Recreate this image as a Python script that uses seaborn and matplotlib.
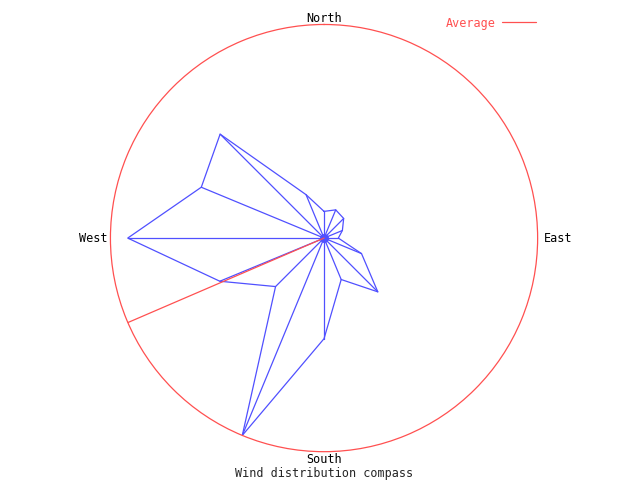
import numpy as np
import pandas as pd
import matplotlib
matplotlib.use('Agg')
import matplotlib.pyplot as plt
import seaborn as sns
from matplotlib.lines import Line2D

# Wind distribution per compass direction (max = 100)
directions = ['N', 'NNE', 'NE', 'ENE', 'E', 'ESE', 'SE', 'SSE',
              'S', 'SSW', 'SW', 'WSW', 'W', 'WNW', 'NW', 'NNW']
bearings = [0, 22.5, 45, 67.5, 90, 112.5, 135, 157.5,
            180, 202.5, 225, 247.5, 270, 292.5, 315, 337.5]
wind_values = [12.5, 14.3, 13.0, 9.3, 6.7, 19.0, 35.6, 21.0,
               47.1, 100.0, 32.1, 52.8, 91.9, 62.2, 68.8, 22.0]
avg_bearing = 246.7
compass_labels = ['North', 'East', 'South', 'West']

blue = '#5050FF'
red = '#FF5050'
font = 'DejaVu Sans Mono'

sns.set_style('white')
plt.rcParams['font.family'] = [font]

data = pd.DataFrame({'dir': directions, 'bearing': bearings, 'value': wind_values})
data['theta'] = np.deg2rad(data['bearing'])
rmax = data['value'].max()

fig = plt.figure(figsize=(6.4, 4.8), dpi=100)
ax = fig.add_axes([0.1723, 0.059, 0.668, 0.890], projection='polar')
ax.set_theta_zero_location('N')
ax.set_theta_direction(-1)

# Closed outline of the distribution
outline = pd.concat([data, data.iloc[[0]]], ignore_index=True)
sns.lineplot(data=outline, x='theta', y='value', sort=False, color=blue,
             linewidth=0.9, estimator=None, ax=ax)

# Spokes from the centre to every point
for t, v in zip(data['theta'], data['value']):
    ax.plot([t, t], [0, v], color=blue, linewidth=0.9)
ax.plot([0], [0], 'o', color=blue, markersize=5.5)

# Average direction
ax.plot([np.deg2rad(avg_bearing)] * 2, [0, rmax], color=red, linewidth=0.9)

ax.set_ylim(0, rmax)
ax.grid(False)
ax.set_xticks([])
ax.set_yticks([])
ax.set_xlabel('')
ax.set_ylabel('')
ax.spines['polar'].set_color(red)
ax.spines['polar'].set_linewidth(0.9)

# Compass labels
fs = 8.5
offsets = {'North': (0, 6, 'center', 'center'),
           'East': (6, 0, 'left', 'center'),
           'South': (0, -8, 'center', 'center'),
           'West': (-3, 0, 'right', 'center')}
for lab, b in zip(compass_labels, [0, 90, 180, 270]):
    dx, dy, ha, va = offsets[lab]
    ax.annotate(lab, xy=(np.deg2rad(b), rmax), xytext=(dx, dy),
                textcoords='offset pixels', ha=ha, va=va, fontsize=fs,
                color='black', annotation_clip=False)

fig.text(324 / 640, 1 - 474 / 480, 'Wind distribution compass',
         ha='center', va='center', fontsize=fs)

handle = Line2D([], [], color=red, linewidth=0.9)
fig.legend(handles=[handle], labels=['Average'], loc='center right',
           bbox_to_anchor=(536 / 640, 1 - 23 / 480), frameon=False,
           markerfirst=False, labelcolor=red, fontsize=fs,
           handlelength=2.9, handletextpad=0.5, borderpad=0,
           borderaxespad=0)

fig.savefig('out.png', dpi=100)
